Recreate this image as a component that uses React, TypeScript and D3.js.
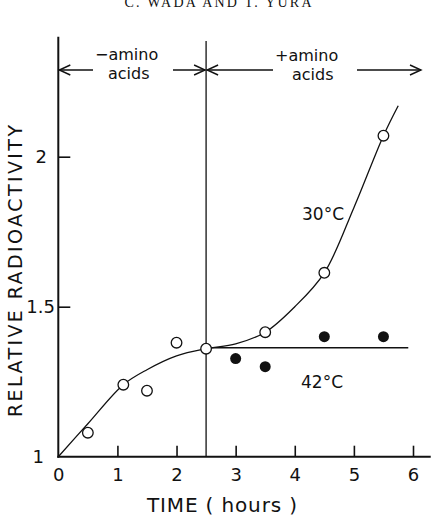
import React, { useEffect, useRef } from 'react';
import * as d3 from 'd3';

// measured points, 30°C (open circles)
const hours30 = [0.5, 1.1, 1.5, 2, 2.5, 3.5, 4.5, 5.5];
const rad30 = [1.08, 1.24, 1.22, 1.38, 1.36, 1.415, 1.613, 2.07];
// measured points, 42°C (filled circles)
const hours42 = [3, 3.5, 4.5, 5.5];
const rad42 = [1.327, 1.3, 1.4, 1.4];
// hand-drawn fit curves
const fitHours30 = [0, 0.5, 1.1, 1.5, 2, 2.5, 3, 3.5, 4, 4.5, 5, 5.5, 5.75];
const fitRad30 = [1, 1.11, 1.24, 1.29, 1.336, 1.36, 1.376, 1.415, 1.5, 1.613, 1.83, 2.07, 2.17];
const fitHours42 = [2.5, 5.92];
const fitRad42 = [1.363, 1.363];
// axes
const xTicks = [0, 1, 2, 3, 4, 5, 6];
const yTicks = [1, 1.5, 2];
const yTickLabels = ['1', '1.5', '2'];
const shiftHour = 2.5;

const W = 432;
const H = 516;
const FONT = "'DejaVu Sans', sans-serif";

const App = () => {
  const svgRef = useRef<SVGSVGElement>(null);

  useEffect(() => {
    const svg = d3.select(svgRef.current);
    svg.selectAll('*').remove();

    const x = d3.scaleLinear().domain([0, 6]).range([58.3, 413]);
    const y = d3.scaleLinear().domain([1, 2]).range([456.7, 156.7]);
    const ink = '#111';

    // title (cut off at top of page)
    svg.append('text')
      .attr('x', 218).attr('y', 7)
      .attr('text-anchor', 'middle')
      .attr('font-family', "'Liberation Serif', serif")
      .attr('font-size', 14)
      .attr('textLength', 187)
      .attr('lengthAdjust', 'spacing')
      .attr('fill', ink)
      .text('C. WADA AND T. YURA');

    // axis lines
    svg.append('line')
      .attr('x1', x(0)).attr('x2', x(0))
      .attr('y1', y(2.4)).attr('y2', y(1) + 1)
      .attr('stroke', ink).attr('stroke-width', 2);
    svg.append('line')
      .attr('x1', x(0) - 1).attr('x2', x(6.3))
      .attr('y1', y(1)).attr('y2', y(1))
      .attr('stroke', ink).attr('stroke-width', 2);

    // x axis ticks (inward)
    const gx = svg.append('g')
      .attr('transform', `translate(0,${y(1)})`)
      .call(d3.axisBottom(x).tickValues(xTicks).tickFormat(d3.format('d'))
        .tickSizeInner(-11).tickSizeOuter(0).tickPadding(24));
    gx.select('.domain').remove();
    gx.selectAll('line').attr('stroke', ink).attr('stroke-width', 1.6);
    gx.selectAll('.tick').filter((d) => d === 0).select('line').remove();
    gx.selectAll('text')
      .attr('font-family', FONT).attr('font-size', 18).attr('fill', ink).attr('dy', 0);

    // y axis ticks (inward); labels drawn separately
    const gy = svg.append('g')
      .attr('transform', `translate(${x(0)},0)`)
      .call(d3.axisLeft(y).tickValues(yTicks).tickSizeInner(-12).tickSizeOuter(0));
    gy.select('.domain').remove();
    gy.selectAll('text').remove();
    gy.selectAll('line').attr('stroke', ink).attr('stroke-width', 1.6);
    gy.selectAll('.tick').filter((d) => d === 1).select('line').remove();
    const yLabelRight = [44, 55, 47];
    svg.append('g').selectAll('text')
      .data(yTicks)
      .enter()
      .append('text')
      .attr('x', (d, i) => yLabelRight[i])
      .attr('y', (d) => y(d))
      .attr('dy', '0.36em')
      .attr('text-anchor', 'end')
      .attr('font-family', FONT).attr('font-size', 18).attr('fill', ink)
      .text((d, i) => yTickLabels[i]);

    // axis titles
    svg.append('text')
      .attr('x', 222).attr('y', 512)
      .attr('text-anchor', 'middle')
      .attr('font-family', FONT).attr('font-size', 20)
      .attr('textLength', 150).attr('lengthAdjust', 'spacing')
      .attr('fill', ink)
      .text('TIME ( hours )');
    svg.append('text')
      .attr('transform', `translate(22,271) rotate(-90)`)
      .attr('text-anchor', 'middle')
      .attr('font-family', FONT).attr('font-size', 19)
      .attr('textLength', 292).attr('lengthAdjust', 'spacing')
      .attr('fill', ink)
      .text('RELATIVE RADIOACTIVITY');

    // shift line
    svg.append('line')
      .attr('x1', x(shiftHour)).attr('x2', x(shiftHour))
      .attr('y1', 41).attr('y2', y(1))
      .attr('stroke', ink).attr('stroke-width', 1.3);

    // header arrows
    const arrowY = 70;
    const arrow = (x1: number, x2: number, head: 'left' | 'right') => {
      svg.append('line')
        .attr('x1', x1).attr('x2', x2).attr('y1', arrowY).attr('y2', arrowY)
        .attr('stroke', ink).attr('stroke-width', 1.4);
      const hx = head === 'left' ? x1 : x2;
      const dir = head === 'left' ? 1 : -1;
      svg.append('path')
        .attr('d', `M${hx + dir * 11},${arrowY - 5}L${hx},${arrowY}L${hx + dir * 11},${arrowY + 5}`)
        .attr('fill', 'none').attr('stroke', ink).attr('stroke-width', 1.4);
    };
    arrow(x(0) + 1, 93, 'left');
    arrow(173, x(shiftHour) - 1, 'right');
    arrow(x(shiftHour) + 1, 273, 'left');
    arrow(357, 421, 'right');

    const label = (tx: number, ty: number, t: string, size = 16) =>
      svg.append('text')
        .attr('x', tx).attr('y', ty)
        .attr('font-family', FONT).attr('font-size', size)
        .attr('fill', ink).text(t);
    label(95, 60, '\u2212amino');
    label(108, 79, 'acids');
    label(275, 61, '+amino');
    label(292, 80, 'acids');
    label(302, 220, '30\u00B0C', 17);
    label(301, 388, '42\u00B0C', 17);

    // fit curves
    const line = d3.line<number>()
      .x((d) => x(d))
      .curve(d3.curveCatmullRom.alpha(0.5));
    svg.append('path')
      .attr('d', line.y((d, i) => y(fitRad30[i]))(fitHours30))
      .attr('fill', 'none').attr('stroke', ink).attr('stroke-width', 1.3);
    svg.append('path')
      .attr('d', line.y((d, i) => y(fitRad42[i]))(fitHours42))
      .attr('fill', 'none').attr('stroke', ink).attr('stroke-width', 1.5);

    // points
    svg.append('g').selectAll('circle')
      .data(hours30)
      .enter()
      .append('circle')
      .attr('cx', (d) => x(d))
      .attr('cy', (d, i) => y(rad30[i]))
      .attr('r', 5.3)
      .attr('fill', '#fff').attr('stroke', ink).attr('stroke-width', 1.3);
    svg.append('g').selectAll('circle')
      .data(hours42)
      .enter()
      .append('circle')
      .attr('cx', (d) => x(d))
      .attr('cy', (d, i) => y(rad42[i]))
      .attr('r', 5.5)
      .attr('fill', ink);

    return () => {
      svg.selectAll('*').remove();
    };
  }, []);

  return (
    <svg
      ref={svgRef}
      width={W}
      height={H}
      style={{ position: 'absolute', left: 0, top: 0, background: '#fff' }}
    />
  );
};

export default App;
